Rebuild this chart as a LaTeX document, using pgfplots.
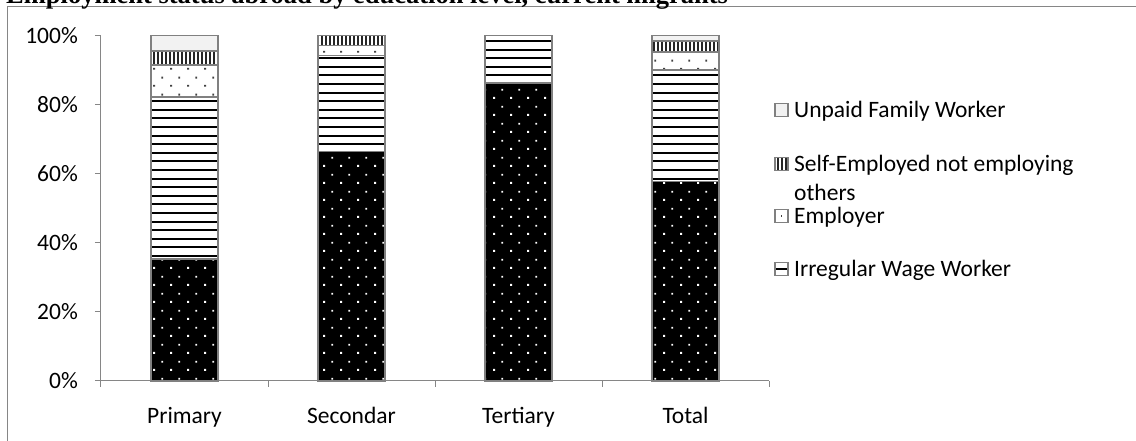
\documentclass[border=0pt]{standalone}
\usepackage{fontspec}
\setmainfont{Carlito}
\newfontfamily\titlefont{Liberation Serif}
\usepackage{pgfplots}
\pgfplotsset{compat=1.18}
\usetikzlibrary{patterns}

\definecolor{axisgray}{HTML}{868686}
\definecolor{bargray}{HTML}{808080}
\definecolor{unpaidfill}{HTML}{F2F2F2}
\definecolor{dotgray}{HTML}{404040}

% horizontal bold stripes (irregular wage worker)
\pgfdeclarepatternformonly{stripesH}{\pgfqpoint{-0.6pt}{0pt}}{\pgfqpoint{9.2pt}{8.6pt}}{\pgfqpoint{8.6pt}{8.6pt}}{%
  \pgfpathrectangle{\pgfqpoint{-0.6pt}{3.4pt}}{\pgfqpoint{9.8pt}{2pt}}%
  \pgfusepath{fill}}
% dense vertical stripes (self-employed)
\pgfdeclarepatternformonly{stripesV}{\pgfqpoint{0pt}{-0.5pt}}{\pgfqpoint{4pt}{4.5pt}}{\pgfqpoint{4pt}{4pt}}{%
  \pgfpathrectangle{\pgfqpoint{1.1pt}{-0.5pt}}{\pgfqpoint{1.8pt}{5pt}}%
  \pgfusepath{fill}}
% staggered small dots
\pgfdeclarepatternformonly{sparsedots}{\pgfqpoint{0pt}{0pt}}{\pgfqpoint{16.7pt}{16.7pt}}{\pgfqpoint{16.7pt}{16.7pt}}{%
  \pgfpathrectangle{\pgfqpoint{3.3pt}{3.3pt}}{\pgfqpoint{1.8pt}{1.8pt}}%
  \pgfpathrectangle{\pgfqpoint{11.65pt}{11.65pt}}{\pgfqpoint{1.8pt}{1.8pt}}%
  \pgfusepath{fill}}

\tikzset{
  regular/.style={draw=bargray, line width=1.8pt, preaction={fill=black}, pattern=sparsedots, pattern color=white},
  irregular/.style={draw=bargray, line width=1.8pt, preaction={fill=white}, pattern=stripesH, pattern color=black},
  employer/.style={draw=bargray, line width=1.8pt, preaction={fill=white}, pattern=sparsedots, pattern color=dotgray},
  selfemp/.style={draw=bargray, line width=1.8pt, preaction={fill=white}, pattern=stripesV, pattern color=black!85},
  unpaid/.style={draw=bargray, line width=1.8pt, fill=unpaidfill},
  legkey/.style={draw=bargray, line width=1.2pt},
  legtext/.style={anchor=base west, inner sep=0pt, font=\fontsize{23.5}{28}\selectfont},
}

\begin{document}
\begin{tikzpicture}
\useasboundingbox (0,0) rectangle (1136pt,441pt);
\clip (0,0) rectangle (1136pt,441pt);

% chart frame and title
\draw[axisgray, line width=1pt] (7.5pt,-10pt) |- (1150pt,434.5pt);
\node[anchor=base west, inner sep=0pt, font=\titlefont\bfseries\fontsize{26.5}{30}\selectfont]
  at (6pt,437pt) {Employment status abroad by education level, current migrants};

\begin{axis}[
  at={(101pt,60.3pt)}, anchor=south west,
  scale only axis, width=668pt, height=345.2pt,
  xmin=-0.5, xmax=3.5, ymin=0, ymax=100,
  ybar stacked, bar width=67pt,
  axis x line*=bottom, axis y line*=left,
  axis line style={draw=axisgray, line width=1pt},
  tick style={draw=axisgray, line width=1pt},
  tick align=outside, major tick length=6pt,
  /pgf/number format/assume math mode=true,
  ytick={0,20,...,100},
  yticklabel={\pgfmathprintnumber{\tick}\%},
  yticklabel style={anchor=east, inner sep=0pt, xshift=-17pt},
  xtick={-0.5,0.5,1.5,2.5,3.5},
  x tick label as interval,
  xticklabels={Primary,Secondar,Tertiary,Total},
  xticklabel style={anchor=base, inner sep=0pt, yshift=-37pt},
  tick label style={font=\fontsize{23.5}{28}\selectfont},
  clip=false,
]
% Regular Wage Worker
\addplot[regular] coordinates {(0,35.3) (1,66.4) (2,86.2) (3,57.7)};
% Irregular Wage Worker
\addplot[irregular] coordinates {(0,46.9) (1,27.8) (2,13.8) (3,32.4)};
% Employer
\addplot[employer] coordinates {(0,9.3) (1,2.9) (2,0) (3,5.1)};
% Self-Employed not employing others
\addplot[selfemp] coordinates {(0,4.1) (1,2.9) (2,0) (3,3.1)};
% Unpaid Family Worker
\addplot[unpaid] coordinates {(0,4.4) (1,0) (2,0) (3,1.7)};
\end{axis}

% legend keys and entries
\draw[legkey, fill=unpaidfill] (775pt,324.7pt) rectangle (788pt,337.7pt);
\node[legtext] at (794pt,323.7pt) {Unpaid Family Worker};

\draw[legkey, preaction={fill=white}, pattern=stripesV, pattern color=black!85] (775pt,270.3pt) rectangle (788pt,283.3pt);
\node[legtext] at (794pt,269.3pt) {Self-Employed not employing};
\node[legtext] at (794pt,240pt) {others};

\draw[legkey, fill=white] (775pt,218.7pt) rectangle (788pt,231.7pt);
\fill[dotgray] (780.6pt,224.3pt) rectangle (782.4pt,226.1pt);
\node[legtext] at (794pt,217.7pt) {Employer};

\draw[legkey, fill=white] (775pt,165.3pt) rectangle (788pt,178.3pt);
\fill[black] (775.6pt,170.8pt) rectangle (787.4pt,172.8pt);
\node[legtext] at (794pt,164.3pt) {Irregular Wage Worker};
\end{tikzpicture}
\end{document}
